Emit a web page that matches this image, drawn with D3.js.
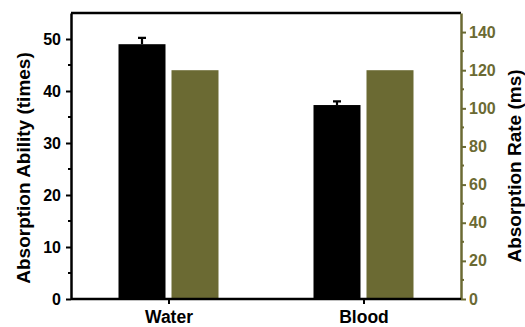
<!DOCTYPE html>
<html><head><meta charset="utf-8">
<script src="https://cdn.jsdelivr.net/npm/d3@7/dist/d3.min.js"></script>
<style>body{margin:0;background:#fff}svg{display:block}text{font-family:"Liberation Sans",Arial,sans-serif;font-weight:bold}</style>
</head><body>
<script>
const categories = ["Water", "Blood"];
const abilityValues = [49.0, 37.3];
const abilityErrors = [1.2, 0.7];
const rateValues = [120, 120];
const leftTicks = [0, 10, 20, 30, 40, 50];
const rightTicks = [0, 20, 40, 60, 80, 100, 120, 140];

const W = 525, H = 327;
const m = {l: 71, r: 64, t: 13, b: 28};
const olive = "#6b6a33";
const svg = d3.select("body").append("svg").attr("width", W).attr("height", H);
const x = d3.scalePoint().domain(categories).range([m.l, W - m.r]).padding(0.5);
const yL = d3.scaleLinear().domain([0, 55]).range([H - m.b, m.t]);
const yR = d3.scaleLinear().domain([0, 150]).range([H - m.b, m.t]);
const bw = 47, gap = 6;

// bars
const g = svg.append("g");
g.selectAll(".bl").data(categories).join("rect")
  .attr("x", d => x(d) - gap/2 - bw).attr("width", bw)
  .attr("y", (d,i) => yL(abilityValues[i])).attr("height", (d,i) => yL(0) - yL(abilityValues[i]))
  .attr("fill", "#000");
g.selectAll(".err").data(categories).join("path")
  .attr("d", (d,i) => {
    const cx = x(d) - gap/2 - bw/2, y0 = yL(abilityValues[i]), y1 = yL(abilityValues[i] + abilityErrors[i]);
    return `M${cx},${y0}V${y1}M${cx-4},${y1}H${cx+4}`;
  }).attr("stroke", "#000").attr("stroke-width", 2.2).attr("fill", "none");
g.selectAll(".br").data(categories).join("rect")
  .attr("x", d => x(d) + gap/2).attr("width", bw)
  .attr("y", (d,i) => yR(rateValues[i])).attr("height", (d,i) => yR(0) - yR(rateValues[i]))
  .attr("fill", olive);

// frame top
svg.append("line").attr("x1", m.l).attr("x2", W - m.r).attr("y1", m.t).attr("y2", m.t)
  .attr("stroke", "#000").attr("stroke-width", 2.5);

// left axis
const minorL = d3.range(5, 55, 10);
const gl = svg.append("g").attr("transform", `translate(${m.l},0)`);
gl.call(d3.axisLeft(yL).tickValues(leftTicks).tickSize(5).tickSizeOuter(0).tickPadding(5));
gl.selectAll(".minor").data(minorL).join("line").attr("class","minor")
  .attr("x1", 0).attr("x2", -3).attr("y1", d => yL(d)).attr("y2", d => yL(d)).attr("stroke", "#000").attr("stroke-width", 2);
gl.select(".domain").attr("stroke-width", 2.5);
gl.selectAll(".tick line").attr("stroke-width", 2);
gl.selectAll("text").attr("font-size", 16).attr("font-family", "Liberation Sans,Arial,sans-serif").attr("font-weight", "bold").attr("fill", "#000");

// right axis
const minorR = d3.range(10, 150, 20);
const gr = svg.append("g").attr("transform", `translate(${W - m.r},0)`);
gr.call(d3.axisRight(yR).tickValues(rightTicks).tickSize(5).tickSizeOuter(0).tickPadding(3));
gr.selectAll(".minor").data(minorR).join("line").attr("class","minor")
  .attr("x1", 0).attr("x2", 3).attr("y1", d => yR(d)).attr("y2", d => yR(d)).attr("stroke", olive).attr("stroke-width", 2);
gr.select(".domain").attr("stroke", olive).attr("stroke-width", 2.5);
gr.selectAll(".tick line").attr("stroke", olive).attr("stroke-width", 2);
gr.selectAll("text").attr("font-size", 16).attr("font-family", "Liberation Sans,Arial,sans-serif").attr("font-weight", "bold").attr("fill", olive);

// bottom axis
const gb = svg.append("g").attr("transform", `translate(0,${H - m.b})`);
gb.call(d3.axisBottom(x).tickSize(5).tickSizeOuter(0).tickPadding(7));
gb.select(".domain").attr("stroke-width", 2.5).attr("d", `M${m.l},0H${W - m.r}`);
gb.selectAll(".tick line").attr("stroke-width", 2);
gb.selectAll("text").attr("font-size", 17.5).attr("font-family", "Liberation Sans,Arial,sans-serif").attr("font-weight", "bold").attr("fill", "#000");

// titles
svg.append("text").attr("transform", `translate(30,168) rotate(-90)`)
  .attr("text-anchor", "middle").attr("font-size", 19).text("Absorption Ability (times)");
svg.append("text").attr("transform", `translate(521,166) rotate(-90)`)
  .attr("text-anchor", "middle").attr("font-size", 19).text("Absorption Rate (ms)");
</script>
</body></html>
